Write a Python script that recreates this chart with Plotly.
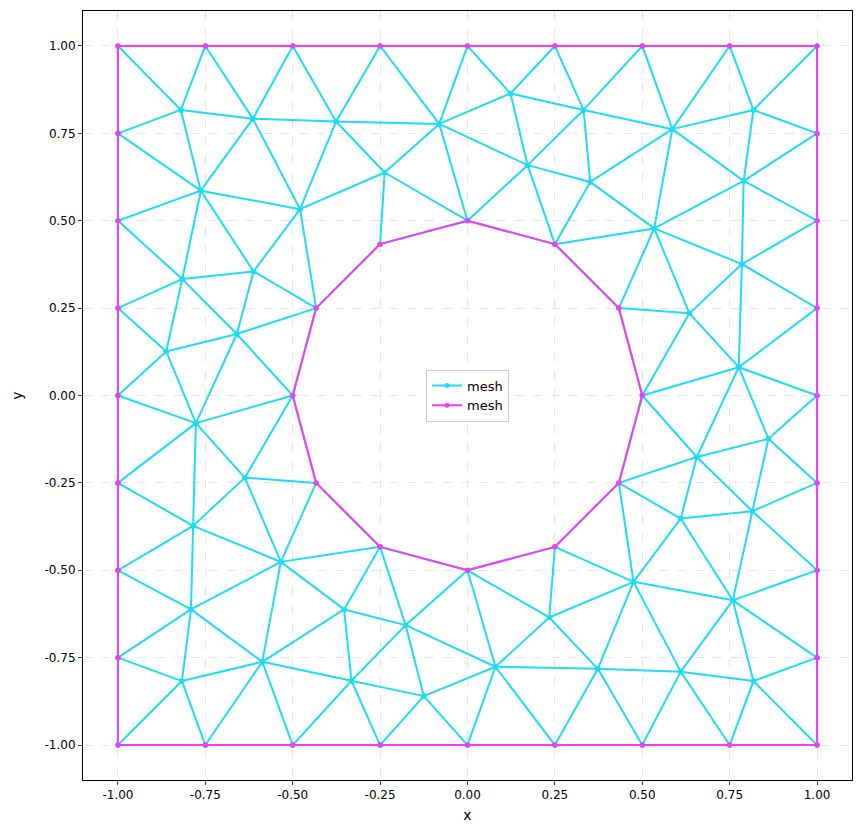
import plotly.graph_objects as go

# node names and coordinates
node_names = ["T0","T1","T2","T3","T4","T5","T6","T7","T8",
              "B0","B1","B2","B3","B4","B5","B6","B7","B8",
              "L1","L2","L3","L4","L5","L6","L7",
              "R1","R2","R3","R4","R5","R6","R7",
              "C0","C1","C2","C3","C4","C5","C6","C7","C8","C9","C10","C11",
              "a","b","c","d","e","f","g","h","i","j","k",
              "p","q","r","s","t","u","v","w","x","y","z",
              "l","m","n","o","p2","q2","r2","s2","t2","u2","v2",
              "a4","b4","c4","d4","e4","f4","g4","h4","i4","j4","k4"]
node_x = [-1,-0.75,-0.5,-0.25,0,0.25,0.5,0.75,1,
          -1,-0.75,-0.5,-0.25,0,0.25,0.5,0.75,1,
          -1,-1,-1,-1,-1,-1,-1,
          1,1,1,1,1,1,1,
          0.5,0.433,0.25,0,-0.25,-0.433,-0.5,-0.433,-0.25,0,0.25,0.433,
          -0.82,-0.614,-0.376,-0.081,-0.763,-0.479,-0.237,-0.816,-0.612,-0.66,-0.862,
          0.123,0.332,0.172,0.351,0.586,0.818,0.79,0.534,0.785,0.635,0.776,
          -0.777,-0.637,-0.785,-0.534,-0.791,-0.353,-0.177,-0.587,-0.817,-0.332,-0.125,
          0.656,0.861,0.61,0.815,0.475,0.759,0.234,0.08,0.373,0.61,0.818]
node_y = [1,1,1,1,1,1,1,1,1,
          -1,-1,-1,-1,-1,-1,-1,-1,-1,
          -0.75,-0.5,-0.25,0,0.25,0.5,0.75,
          -0.75,-0.5,-0.25,0,0.25,0.5,0.75,
          0,0.25,0.433,0.5,0.433,0.25,0,-0.25,-0.433,-0.5,-0.433,-0.25,
          0.817,0.792,0.784,0.777,0.586,0.533,0.638,0.333,0.355,0.176,0.126,
          0.864,0.817,0.659,0.611,0.762,0.817,0.614,0.478,0.376,0.235,0.081,
          -0.079,-0.235,-0.373,-0.476,-0.612,-0.612,-0.657,-0.762,-0.817,-0.816,-0.86,
          -0.176,-0.124,-0.352,-0.331,-0.533,-0.586,-0.635,-0.776,-0.782,-0.79,-0.817]

mesh_edges = """T0-a T1-a T1-b T2-b T2-c T3-c T3-d T4-d a-b b-c c-d a-L7 a-e b-e b-f c-f c-g d-g d-C3 d-p d-r
L7-e L6-e L6-h e-f e-h e-i f-i f-g f-C5 g-C4 g-C3 h-i h-L5 h-j h-k i-j i-C5 j-C5 j-k j-C6 k-L5 k-L4 k-l j-l L4-l
T4-p T5-p T5-q T6-q T6-t T7-t T7-u T8-u p-q p-r q-r q-s q-t r-C3 r-s r-C2 s-C2 s-t s-w t-w t-v t-u u-v u-R7
v-R7 v-R6 v-w v-x w-x w-y w-C2 w-C1 x-R6 x-R5 x-y x-z y-C1 y-z y-C0 z-R5 z-C0 z-R4
C6-l l-L3 l-m l-n m-C6 m-C7 m-n m-o L3-n L2-n n-o n-p2 o-C7 o-C8 o-q2 o-s2 o-p2 L2-p2 L1-p2 p2-s2 p2-t2
L1-t2 B0-t2 t2-s2 t2-B1 s2-B1 s2-B2 s2-q2 s2-u2 q2-C8 q2-r2 q2-u2 r2-C8 r2-C9 r2-u2 r2-v2 r2-h4 u2-B2 u2-B3
u2-v2 v2-B3 v2-B4 v2-h4
C0-a4 z-a4 z-b4 R4-b4 a4-b4 a4-C11 a4-c4 a4-d4 b4-d4 b4-R3 R3-d4 c4-d4 c4-C11 c4-e4 c4-f4 d4-f4 d4-R2 R2-f4
R1-f4 e4-C11 e4-C10 e4-g4 e4-i4 e4-j4 e4-f4 g4-C10 g4-C9 g4-h4 g4-i4 C9-h4 h4-i4 h4-B4 h4-B5 i4-B5 i4-B6
i4-j4 j4-f4 j4-B6 j4-B7 j4-k4 k4-f4 k4-R1 k4-B7 k4-B8""".split()

outer_loop = ["T0","T1","T2","T3","T4","T5","T6","T7","T8","R7","R6","R5","R4","R3","R2","R1",
              "B8","B7","B6","B5","B4","B3","B2","B1","B0","L1","L2","L3","L4","L5","L6","L7","T0"]
inner_loop = ["C0","C1","C2","C3","C4","C5","C6","C7","C8","C9","C10","C11","C0"]

idx = {n: i for i, n in enumerate(node_names)}

def seg_coords(pairs):
    xs, ys = [], []
    for a, b in pairs:
        xs += [node_x[idx[a]], node_x[idx[b]], None]
        ys += [node_y[idx[a]], node_y[idx[b]], None]
    return xs, ys

cyan_pairs = [e.split("-") for e in mesh_edges]
bnd_pairs = list(zip(outer_loop[:-1], outer_loop[1:])) + list(zip(inner_loop[:-1], inner_loop[1:]))
cx, cy = seg_coords(cyan_pairs + bnd_pairs)
mx, my = seg_coords(bnd_pairs)

CYAN = "#1fdcf5"
MAG = "#f23cf8"
fig = go.Figure()
fig.add_trace(go.Scatter(x=cx, y=cy, mode="lines+markers", name="mesh",
                         line=dict(color=CYAN, width=2), marker=dict(color=CYAN, size=5)))
fig.add_trace(go.Scatter(x=mx, y=my, mode="lines+markers", name="mesh",
                         line=dict(color=MAG, width=2), marker=dict(color=MAG, size=5)))

ticks = [-1, -0.75, -0.5, -0.25, 0, 0.25, 0.5, 0.75, 1]
ticktext = [f"{t:.2f}" for t in ticks]
axis = dict(range=[-1.1, 1.1], tickvals=ticks, ticktext=ticktext, showline=True, linecolor="black",
            mirror=True, ticks="outside", ticklen=4, showgrid=True, gridcolor="#e6e6e6",
            griddash="dash", zeroline=False, tickfont=dict(size=12, color="black"))
fig.update_layout(
    width=861, height=833, plot_bgcolor="white", paper_bgcolor="white",
    margin=dict(l=75, r=17, t=3, b=61),
    font=dict(family="DejaVu Sans", size=12, color="black"),
    xaxis=dict(axis, title=dict(text="x", standoff=8)),
    yaxis=dict(axis, title=dict(text="y", standoff=18)),
    legend=dict(x=0.5, y=0.5, xanchor="center", yanchor="middle", bgcolor="white",
                bordercolor="#cccccc", borderwidth=1, font=dict(size=13)),
)
fig.write_html("out.html")
